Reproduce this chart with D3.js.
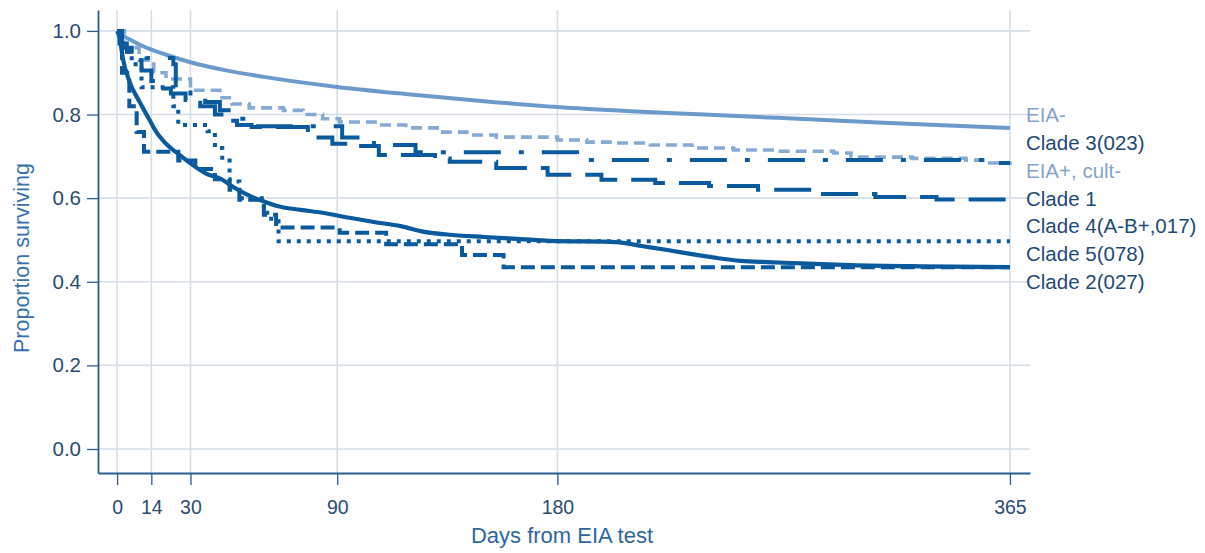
<!DOCTYPE html>
<html><head><meta charset="utf-8">
<script src="https://cdn.jsdelivr.net/npm/d3@7"></script>
<style>
body{margin:0;background:#fff;}
svg{display:block;font-family:"Liberation Sans",Arial,Helvetica,sans-serif;}
</style></head>
<body><svg id="c" width="1205" height="553"></svg>
<script>
// ---- data ----
const xTicks = [0, 14, 30, 90, 180, 365];
const yTicks = [0.0, 0.2, 0.4, 0.6, 0.8, 1.0];
const seriesNames = ["EIA-", "Clade 3(023)", "EIA+, cult-", "Clade 1", "Clade 4(A-B+,017)", "Clade 5(078)", "Clade 2(027)"];

const eiaNegDays = [0,2,5,10,14,20,30,45,60,90,120,150,180,210,240,270,300,330,365];
const eiaNegVals = [1.0,0.99,0.98,0.965,0.955,0.943,0.925,0.905,0.89,0.866,0.848,0.832,0.818,0.808,0.80,0.792,0.784,0.776,0.768];

const eiaPosDays = [0,3,9,15,20,30,42,47,54,68,76,84,91,107,118,132,143,155,180,192,203,218,235,252,270,293,300,325,347,354,365];
const eiaPosVals = [1.0,0.96,0.93,0.9,0.885,0.858,0.84,0.825,0.816,0.81,0.80,0.79,0.782,0.775,0.768,0.758,0.751,0.746,0.739,0.734,0.732,0.727,0.72,0.715,0.712,0.708,0.698,0.695,0.691,0.684,0.679];

const clade3Days = [0,1,4,12,23,24,30,36,42,48,55,92,105,122,188,355,365];
const clade3Vals = [1.0,0.97,0.95,0.935,0.92,0.86,0.845,0.83,0.81,0.79,0.772,0.745,0.727,0.71,0.691,0.684,0.684];

const clade1Days = [0,2,6,10,14,17,22,28,34,40,45,49,55,78,88,95,107,130,136,155,176,198,220,242,262,285,310,335,365];
const clade1Vals = [1.0,0.96,0.93,0.905,0.88,0.862,0.85,0.835,0.82,0.80,0.785,0.775,0.77,0.745,0.73,0.725,0.703,0.695,0.687,0.672,0.656,0.644,0.636,0.629,0.62,0.61,0.603,0.597,0.597];

const clade4Days = [0,2,5,8,11,25,32,40,46,50,60,65,91,110,141,158,365];
const clade4Vals = [1.0,0.9,0.82,0.758,0.711,0.69,0.67,0.645,0.62,0.596,0.56,0.53,0.517,0.49,0.464,0.435,0.435];

const clade5Days = [0,2,6,10,20,23,25,37,40,43,46,50,60,63,66,365];
const clade5Vals = [1.0,0.95,0.92,0.865,0.865,0.82,0.775,0.76,0.72,0.69,0.64,0.60,0.565,0.545,0.497,0.497];

const clade2Days = [0,1,2.5,5,9.4,13,16.3,20,24.5,29.8,36,43,48,54,60,65,75,84,95,105,116,125,135,150,165,177,204,215,225,235,245,255,266,280,300,330,365];
const clade2Vals = [1.0,0.985,0.93,0.88,0.828,0.79,0.756,0.73,0.708,0.684,0.66,0.644,0.625,0.606,0.592,0.582,0.572,0.565,0.553,0.543,0.533,0.52,0.513,0.507,0.502,0.498,0.495,0.485,0.476,0.466,0.457,0.45,0.447,0.444,0.44,0.437,0.435];

// ---- scales ----
const svg = d3.select("#c");
const x = d3.scaleLinear().domain([-7.8, 373.2]).range([98, 1030]);
const y = d3.scaleLinear().domain([-0.0574, 1.05]).range([473, 10]);

const gridCol = "#d6dee7";
const axisCol = "#2a5d8f";
const dark = "#0b5a9e";
const light1 = "#6c9bcb";
const light2 = "#86aad2";
const fam = "'Liberation Sans',Arial,Helvetica,sans-serif";

// gridlines
svg.append("g").selectAll("line").data(yTicks).join("line")
  .attr("x1", x.range()[0]).attr("x2", x.range()[1])
  .attr("y1", d => y(d)).attr("y2", d => y(d))
  .attr("stroke", gridCol).attr("stroke-width", 1.6);
svg.append("g").selectAll("line").data(xTicks).join("line")
  .attr("x1", d => x(d)).attr("x2", d => x(d))
  .attr("y1", y.range()[1]).attr("y2", y.range()[0])
  .attr("stroke", gridCol).attr("stroke-width", 1.6);

// axes
const yAxis = svg.append("g").attr("transform", `translate(${x.range()[0]},0)`)
  .call(d3.axisLeft(y).tickValues(yTicks).tickFormat(d3.format(".1f")).tickSize(11).tickSizeOuter(0).tickPadding(6));
const xAxis = svg.append("g").attr("transform", `translate(0,${y.range()[0]})`)
  .call(d3.axisBottom(x).tickValues(xTicks).tickSize(12).tickSizeOuter(0).tickPadding(15));
[yAxis, xAxis].forEach(a => {
  a.attr("font-size", 19.5).attr("font-family", fam);
  a.select(".domain").attr("stroke", axisCol).attr("stroke-width", 1.8);
  a.selectAll(".tick line").attr("stroke", axisCol).attr("stroke-width", 1.3);
  a.selectAll(".tick text").attr("fill", "#2b4c72");
});
yAxis.attr("font-size", 20.5);

// curves
const mk = (days, vals) => days.map((d, i) => [d, vals[i]]);
const series = [
  {data: mk(eiaNegDays, eiaNegVals), color: light1, w: 4, dash: null, curve: d3.curveMonotoneX},
  {data: mk(eiaPosDays, eiaPosVals), color: light2, w: 3.6, dash: "11,6", curve: d3.curveStepAfter},
  {data: mk(clade1Days, clade1Vals), color: dark, w: 4, dash: "37,14", curve: d3.curveStepAfter},
  {data: mk(clade3Days, clade3Vals), color: dark, w: 4, dash: "37,18,5,18", curve: d3.curveStepAfter},
  {data: mk(clade4Days, clade4Vals), color: dark, w: 4, dash: "14,6", curve: d3.curveStepAfter},
  {data: mk(clade5Days, clade5Vals), color: dark, w: 4, dash: "4,6", curve: d3.curveStepAfter},
  {data: mk(clade2Days, clade2Vals), color: dark, w: 4.2, dash: null, curve: d3.curveMonotoneX},
];
series.forEach(s => {
  svg.append("path").datum(s.data)
    .attr("d", d3.line().x(d => x(d[0])).y(d => y(d[1])).curve(s.curve))
    .attr("fill", "none").attr("stroke", s.color).attr("stroke-width", s.w)
    .attr("stroke-dasharray", s.dash).attr("stroke-linejoin", "miter");
});

// right-hand labels
const labelColors = ["#86a5c8", "#1f4a78", "#86a5c8", "#1f4a78", "#1f4a78", "#1f4a78", "#1f4a78"];
svg.append("g").selectAll("text").data(seriesNames).join("text")
  .attr("x", 1026)
  .attr("y", (d, i) => y(0.8 - i / 15))
  .attr("dy", "0.36em")
  .attr("font-size", 20.5)
  .attr("fill", (d, i) => labelColors[i])
  .text(d => d);

// axis titles
svg.append("text").attr("x", 562).attr("y", 543).attr("text-anchor", "middle")
  .attr("font-size", 22).attr("fill", "#2f66a0").text("Days from EIA test");
svg.append("text").attr("transform", "translate(29,258) rotate(-90)").attr("text-anchor", "middle")
  .attr("font-size", 21.5).attr("fill", "#3671ad").text("Proportion surviving");
</script>
</body></html>
